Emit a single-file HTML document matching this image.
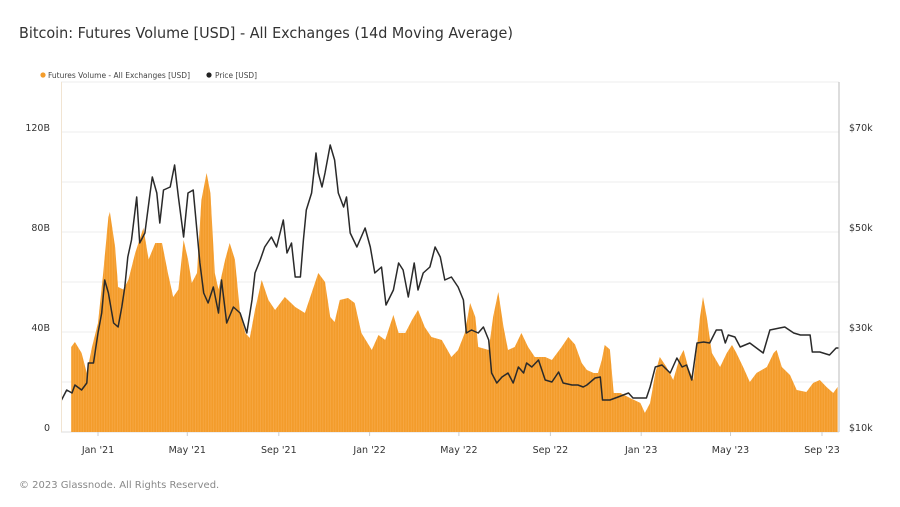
<!DOCTYPE html>
<html><head><meta charset="utf-8">
<style>
html,body{margin:0;padding:0;background:#fff;}
svg{display:block;font-family:"DejaVu Sans","Liberation Sans",sans-serif;}
</style></head>
<body>
<svg id="chart" width="900" height="507" viewBox="0 0 900 507" xmlns="http://www.w3.org/2000/svg">
<defs>
<pattern id="stripes" width="2.6" height="10" patternUnits="userSpaceOnUse">
<rect x="0" y="0" width="0.8" height="10" fill="#fbb25a" opacity="0.55"/>
</pattern>
<clipPath id="plotclip"><rect x="61" y="82" width="778" height="351"/></clipPath>
</defs>
<text x="19" y="38" font-size="15.5" fill="#333" textLength="494" lengthAdjust="spacingAndGlyphs">Bitcoin: Futures Volume [USD] - All Exchanges (14d Moving Average)</text>
<g>
<g>
<circle cx="43" cy="75" r="2.6" fill="#f39c2b"/>
<text x="48" y="78" font-size="7.5" fill="#444" textLength="142" lengthAdjust="spacingAndGlyphs">Futures Volume - All Exchanges [USD]</text>
</g>
<g>
<circle cx="209" cy="75" r="2.6" fill="#222"/>
<text x="215" y="78" font-size="7.5" fill="#444" textLength="42" lengthAdjust="spacingAndGlyphs">Price [USD]</text>
</g>
</g>
<g id="grid"></g>
<g id="bars" clip-path="url(#plotclip)"></g>
<g id="line" clip-path="url(#plotclip)"></g>
<g id="axes"></g>
<text x="19" y="488" font-size="10" fill="#888">© 2023 Glassnode. All Rights Reserved.</text>
</svg>
<script>
// days since 2021-01-01
const volDays = [-36,-31,-22,-15,-8,0,7,14,16,23,27,34,41,50,61,68,77,86,94,101,108,115,121,126,133,139,146,151,157,162,171,177,184,191,198,204,211,220,229,238,251,265,278,287,296,305,312,318,325,336,345,354,368,377,386,397,404,413,422,430,439,448,462,475,484,493,500,507,511,525,531,538,545,551,560,569,578,587,601,610,623,632,641,650,657,666,672,677,681,688,693,702,715,729,735,742,749,755,764,773,782,787,793,800,805,809,813,818,825,836,845,852,858,867,876,885,899,908,912,919,930,939,952,961,970,979,988,994];
const volValues = [34,36,31.6,23.6,34,43.6,63.6,86,88,74,58,57,61,71.6,81.6,69,75.6,75.6,63.6,54,57,76.8,69,59.6,63.6,92.8,103.6,95.6,63.6,57,69,75.6,69,47.6,39.6,37.6,48.8,60.8,52.8,48.8,54,50,47.6,55.6,63.6,60,46,44,52.8,53.6,51.6,39.6,32.8,38.8,36.8,46.8,39.6,39.6,44.8,48.8,42,38,36.8,30,32.8,39.6,51.6,46,34,32.8,46,56,42,32.8,34,39.6,34,30,30,28.8,34,38,35,27.6,24.8,23.6,23.6,28.8,34.8,33,15.6,15.6,13.6,11.6,7.6,11.6,23.6,30,26,20.8,30,32.8,26,20.8,34,46,54,46,31.6,26,31.6,34.8,31.6,26,20,23.6,26,31.6,32.8,26,22.8,16.8,16,19.6,20.8,18,15.6,18];
const priceDays = [-49,-42,-35,-31,-22,-15,-13,-6,0,5,9,14,21,27,32,36,40,45,52,56,63,70,73,79,83,88,97,103,108,115,121,128,137,142,148,155,162,166,173,182,191,200,207,211,218,224,233,240,249,254,260,265,272,276,280,287,293,296,301,305,312,318,323,330,334,339,348,359,366,372,381,387,397,404,410,417,425,430,437,446,453,460,466,475,484,491,495,502,511,518,525,529,536,543,551,558,565,572,576,583,592,601,610,619,625,637,645,652,657,668,675,678,688,699,713,719,737,742,749,758,769,778,785,791,798,805,814,822,831,838,843,847,856,863,876,885,894,903,916,923,935,944,957,960,970,983,992,995];
const priceValues = [16.4,18.4,17.8,19.4,18.4,19.8,23.8,23.8,29.8,33.8,40.4,37.8,31.8,31,35,39,45,48.4,57,47.8,49.8,57.8,61,57.8,51.8,58.4,59,63.4,57,49,57.8,58.4,43.8,37.8,35.8,39,33.8,40.4,31.8,35,33.8,29.8,36.4,41.8,44.4,47,49,47,52.4,45.8,47.8,41,41,48.4,54.4,57.8,65.8,61.8,59,61.8,67.4,64.4,57.8,55,57,49.8,47,50.8,47,41.8,43,35.4,38.4,43.8,42.4,37,43.8,38.4,41.8,43,47,45,40.4,41,39,36.4,29.8,30.4,29.8,31,28.4,21.8,19.8,21,21.8,19.8,23,21.8,23.8,23,24.4,20.4,20,22,19.8,19.4,19.4,19,19.4,20.8,21,16.4,16.4,17,17.8,16.8,16.8,19,23,23.4,21.8,24.8,23,23.4,20.4,27.8,28,27.8,30.4,30.4,27.8,29.4,29,27,27.8,26.8,25.8,30.4,30.8,31,29.8,29.4,29.4,26,26,25.4,26.8,26.8];
const leftTicks = [0,40,80,120];
const leftTickLabels = ["0","40B","80B","120B"];
const rightTicks = [10,30,50,70];
const rightTickLabels = ["$10k","$30k","$50k","$70k"];
const xTickDays = [0,120,243,365,485,608,730,850,973];
const xTickLabels = ["Jan '21","May '21","Sep '21","Jan '22","May '22","Sep '22","Jan '23","May '23","Sep '23"];

const NS="http://www.w3.org/2000/svg";
const X = d => 98 + d*0.7441;
const YV = v => 432 - v*2.5;
const YP = p => 432 - (p-10)*5;
function mk(tag, attrs, parent){const e=document.createElementNS(NS,tag);for(const k in attrs)e.setAttribute(k,attrs[k]);parent.appendChild(e);return e;}

const grid=document.getElementById('grid');
for(let v=0; v<=140; v+=20){
  const g=mk('line',{x1:61,x2:839,y1:YV(v),y2:YV(v),stroke:v===0?'#ddd':'#eeeeee','stroke-width':1},grid);
  
  
}

const bars=document.getElementById('bars');
let d='M'+X(volDays[0])+','+YV(0);
volDays.forEach((dd,i)=>{d+=' L'+X(dd).toFixed(1)+','+YV(volValues[i]).toFixed(1);});
d+=' L'+X(volDays[volDays.length-1])+','+YV(0)+' Z';
const area=mk('path',{d:d,fill:'#f39c2b'},bars);


const tex=mk('path',{d:d,fill:'url(#stripes)'},bars);



const line=document.getElementById('line');
let pd='';
priceDays.forEach((dd,i)=>{pd+=(i?' L':'M')+X(dd).toFixed(1)+','+YP(priceValues[i]).toFixed(1);});
const pl=mk('path',{d:pd,fill:'none',stroke:'#2a2a2a','stroke-width':1.5,'stroke-linejoin':'round'},line);



const axes=document.getElementById('axes');
const la=mk('line',{x1:61.5,x2:61.5,y1:82,y2:432,stroke:'#f1e4d2','stroke-width':1},axes);


const ra=mk('line',{x1:839,x2:839,y1:82,y2:432,stroke:'#bbb','stroke-width':1},axes);


leftTicks.forEach((v,i)=>{
  const t=mk('text',{x:50,y:YV(v)-1,'font-size':9.5,fill:'#333','text-anchor':'end'},axes);
  t.textContent=leftTickLabels[i];
  
  
});
rightTicks.forEach((v,i)=>{
  const t=mk('text',{x:849,y:YP(v)-1,'font-size':9.5,fill:'#333'},axes);
  t.textContent=rightTickLabels[i];
  
  
});
xTickDays.forEach((dd,i)=>{
  const tk=mk('line',{x1:X(dd),x2:X(dd),y1:432,y2:436,stroke:'#ccc'},axes);
  
  
  const t=mk('text',{x:X(dd),y:453,'font-size':9.5,fill:'#333','text-anchor':'middle'},axes);
  t.textContent=xTickLabels[i];
  
  
});
</script>
</body></html>
